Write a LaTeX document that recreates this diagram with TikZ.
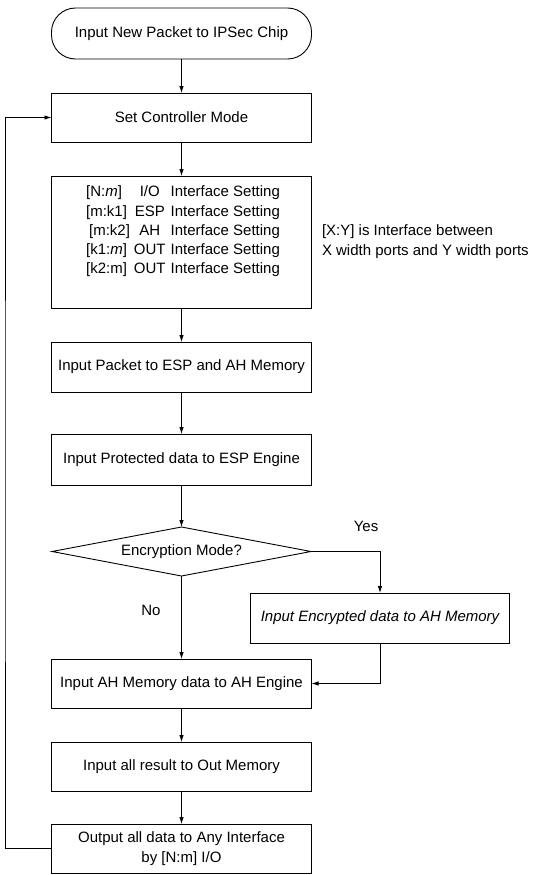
\documentclass[tikz,border=0pt]{standalone}
\usepackage{fontspec}
\setmainfont{Liberation Sans}
\usetikzlibrary{arrows.meta,shapes.geometric}
\begin{document}
\begin{tikzpicture}[x=1pt,y=-1pt,
  font=\fontsize{15}{19.3}\selectfont,
  every node/.style={outer sep=0pt},
  box/.style={draw, line width=0.9pt, rectangle, inner sep=0pt,
    minimum width=260pt, minimum height=50pt, align=center},
  term/.style={box, rounded corners=24pt},
  dec/.style={draw, line width=0.9pt, diamond, shape aspect=4, inner sep=0pt,
    minimum width=259pt, minimum height=49pt},
  conn/.style={line width=0.8pt, -{Latex[length=7pt,width=4.5pt]}},
  lbl/.style={inner sep=0pt}
]
\useasboundingbox (0,0) rectangle (542,875);

\node[term, minimum height=51pt] (start) at (181.5,33.5) {Input New Packet to IPSec Chip};
\node[box, minimum height=49pt] (ctrl) at (181.5,117.5) {Set Controller Mode};
\node[box, minimum height=132pt] (iface) at (181.5,242) {};
\node[lbl] (ilines) at (183,231.5) {%
  \begin{tabular}{@{}l@{\hspace{4pt}}c@{\hspace{5pt}}l@{}}
  {[N:\textit{m}]} & I/O & Interface Setting\\
  {[m:k1]} & ESP & Interface Setting\\
  \hspace{3pt}{[m:k2]} & AH & Interface Setting\\
  {[k1:\textit{m}]} & OUT & Interface Setting\\
  {[k2:m]} & OUT & Interface Setting
  \end{tabular}};
\node[lbl, anchor=west, align=left] (note) at (322,241.5)
  {{[X:Y]} is Interface between\\X width ports and Y width ports};
\node[box] (inpkt) at (181.5,367) {Input Packet to ESP and AH Memory};
\node[box, minimum height=51pt] (prot) at (181.5,459.5) {Input Protected data to ESP Engine};
\node[dec] (dec) at (181.5,551.5) {Encryption Mode?};
\node[box, minimum width=259pt] (enc) at (380,618) {\itshape Input Encrypted data to AH Memory};
\node[box, minimum height=49pt] (ahe) at (181.5,683.5) {Input AH Memory data to AH Engine};
\node[box, minimum height=49pt] (outm) at (181.5,766.5) {Input all result to Out Memory};
\node[box, minimum height=49pt] (outp) at (181.5,848.5) {Output all data to Any Interface\\by {[N:m]} I/O};
\node[lbl] (yes) at (366,526) {Yes};
\node[lbl] (no) at (151,610) {No};
\coordinate (fb) at (5,480);

\draw[conn] (start) -- (ctrl);
\draw[conn] (ctrl) -- (iface);
\draw[conn] (iface) -- (inpkt);
\draw[conn] (inpkt) -- (prot);
\draw[conn] (prot) -- (dec);
\draw[conn] (dec) -- (ahe);
\draw[conn] (dec.east) -| (enc.north);
\draw[conn] (enc.south) |- (ahe.east);
\draw[conn] (ahe) -- (outm);
\draw[conn] (outm) -- (outp);
\draw[conn] (outp.west) -| (fb) |- (ctrl.west);
\end{tikzpicture}
\end{document}
